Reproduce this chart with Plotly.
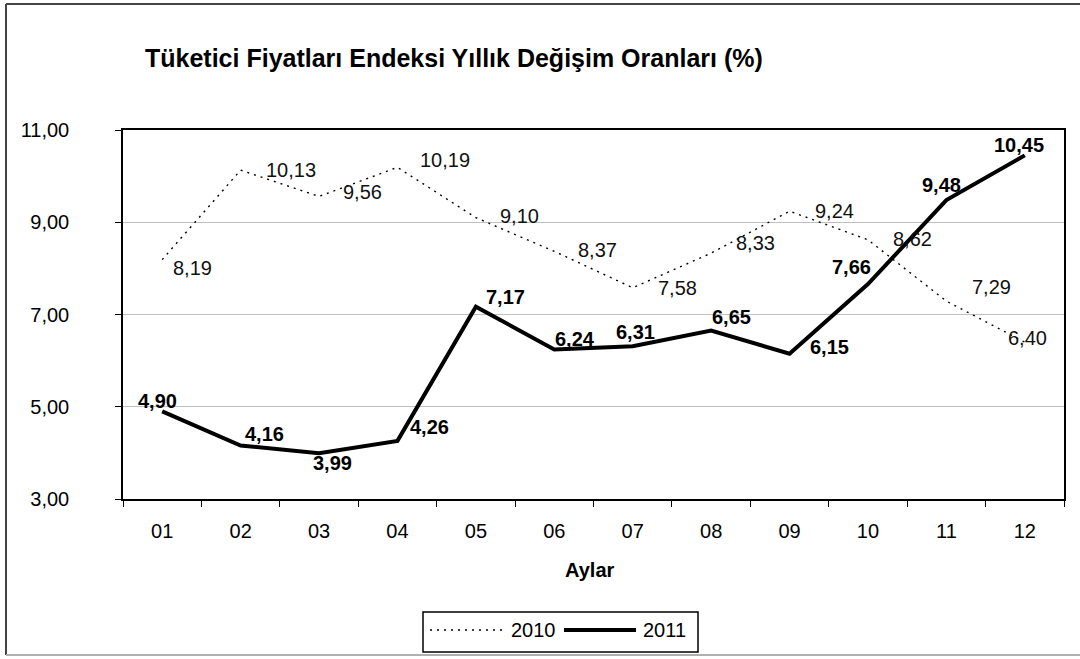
import plotly.graph_objects as go

months = ["01", "02", "03", "04", "05", "06", "07", "08", "09", "10", "11", "12"]
cpi_2010 = [8.19, 10.13, 9.56, 10.19, 9.10, 8.37, 7.58, 8.33, 9.24, 8.62, 7.29, 6.40]
cpi_2011 = [4.90, 4.16, 3.99, 4.26, 7.17, 6.24, 6.31, 6.65, 6.15, 7.66, 9.48, 10.45]
y_ticks = [3, 5, 7, 9, 11]
y_ticktext = ["3,00", "5,00", "7,00", "9,00", "11,00"]
series_names = ["2010", "2011"]
title_text = "Tüketici Fiyatları Endeksi Yıllık Değişim Oranları (%)"
x_title = "Aylar"

# label offsets (pixels) relative to each point
dx_2010 = [30, 50, 43, 48, 44, 43, 45, 44, 45, 45, 45, 3]
dy_2010 = [-8, 0, 4, 7, 2, 1, 0, 10, 0, 1, 14, 4]
dx_2011 = [-5, 24, 13, 32, 30, 21, 3, 20, 40, -16, -5, -6]
dy_2011 = [10, 12, -10, 14, 10, 11, 14, 14, 7, 17, 15, 10]

FONT = "Liberation Sans, Arial, sans-serif"
FS = 20
W, H = 1080, 659
L, R, T, B = 123, 1064, 130, 499


def fx(px):
    return (px - L) / (R - L)


def fy(py):
    return (B - py) / (B - T)


def fmt(v):
    return f"{v:.2f}".replace(".", ",")


fig = go.Figure()
fig.add_trace(go.Scatter(x=months, y=cpi_2010, mode="lines", name=series_names[0],
                         line=dict(color="black", width=1.4, dash="2px,5px"),
                         showlegend=False, hoverinfo="skip"))
fig.add_trace(go.Scatter(x=months, y=cpi_2011, mode="lines", name=series_names[1],
                         line=dict(color="black", width=4),
                         showlegend=False, hoverinfo="skip"))

annotations = []
for i, (v, dx, dy) in enumerate(zip(cpi_2010, dx_2010, dy_2010)):
    annotations.append(dict(x=i, y=v, xref="x", yref="y", text=fmt(v), showarrow=False,
                            xshift=dx, yshift=dy, font=dict(family=FONT, size=FS, color="#111")))
for i, (v, dx, dy) in enumerate(zip(cpi_2011, dx_2011, dy_2011)):
    annotations.append(dict(x=i, y=v, xref="x", yref="y", text=f"<b>{fmt(v)}</b>", showarrow=False,
                            xshift=dx, yshift=dy, font=dict(family=FONT, size=FS, color="black")))

# title
annotations.append(dict(x=fx(143), y=fy(58), xref="paper", yref="paper", xanchor="left", yanchor="middle",
                        text=f"<b>{title_text}</b>", showarrow=False,
                        font=dict(family=FONT, size=25, color="black")))
# x axis title
annotations.append(dict(x=fx(590), y=fy(570), xref="paper", yref="paper", xanchor="center", yanchor="middle",
                        text=f"<b>{x_title}</b>", showarrow=False,
                        font=dict(family=FONT, size=FS, color="black")))
# legend texts
annotations.append(dict(x=fx(509), y=fy(630), xref="paper", yref="paper", xanchor="left", yanchor="middle",
                        text=series_names[0], showarrow=False, font=dict(family=FONT, size=FS, color="black")))
annotations.append(dict(x=fx(641), y=fy(630), xref="paper", yref="paper", xanchor="left", yanchor="middle",
                        text=series_names[1], showarrow=False, font=dict(family=FONT, size=FS, color="black")))

shapes = [
    # outer border
    dict(type="line", xref="paper", yref="paper", x0=fx(6), x1=fx(6), y0=fy(4), y1=fy(655),
         line=dict(color="#444", width=2)),
    dict(type="line", xref="paper", yref="paper", x0=fx(6), x1=fx(1090), y0=fy(4), y1=fy(4),
         line=dict(color="#444", width=2)),
    dict(type="line", xref="paper", yref="paper", x0=fx(6), x1=fx(1090), y0=fy(655), y1=fy(655),
         line=dict(color="#b0b0b0", width=2)),
    # legend box
    dict(type="rect", xref="paper", yref="paper", x0=fx(423), x1=fx(698), y0=fy(612), y1=fy(652),
         line=dict(color="black", width=1.5), fillcolor="white"),
    dict(type="line", xref="paper", yref="paper", x0=fx(430), x1=fx(504), y0=fy(630), y1=fy(630),
         line=dict(color="black", width=1.4, dash="2px,5px")),
    dict(type="line", xref="paper", yref="paper", x0=fx(564), x1=fx(636), y0=fy(630), y1=fy(630),
         line=dict(color="black", width=4)),
]

fig.update_layout(
    width=W, height=H,
    margin=dict(l=L, r=W - R, t=T, b=H - B, pad=0),
    paper_bgcolor="white", plot_bgcolor="white",
    showlegend=False,
    annotations=annotations,
    shapes=shapes,
    font=dict(family=FONT, size=FS, color="black"),
)
fig.update_xaxes(type="category", categoryorder="array", categoryarray=months,
                 range=[-0.5, 11.5], tickson="boundaries", ticks="outside", ticklen=6,
                 tickcolor="black", showgrid=False, showline=True, linecolor="black",
                 linewidth=1.5, mirror=True, ticklabelstandoff=13,
                 tickfont=dict(family=FONT, size=FS, color="black"), zeroline=False)
fig.update_yaxes(range=[3, 11], tickvals=y_ticks, ticktext=y_ticktext, ticks="outside",
                 ticklen=6, tickcolor="black", showgrid=True, gridcolor="#c0c0c0", gridwidth=1,
                 showline=True, linecolor="black", linewidth=1.5, mirror=True,
                 ticklabelstandoff=42, tickfont=dict(family=FONT, size=FS, color="black"),
                 zeroline=False)

fig.write_html("out.html", config={"displayModeBar": False},
               post_script="document.body.style.margin='0';document.body.style.overflow='hidden';")
